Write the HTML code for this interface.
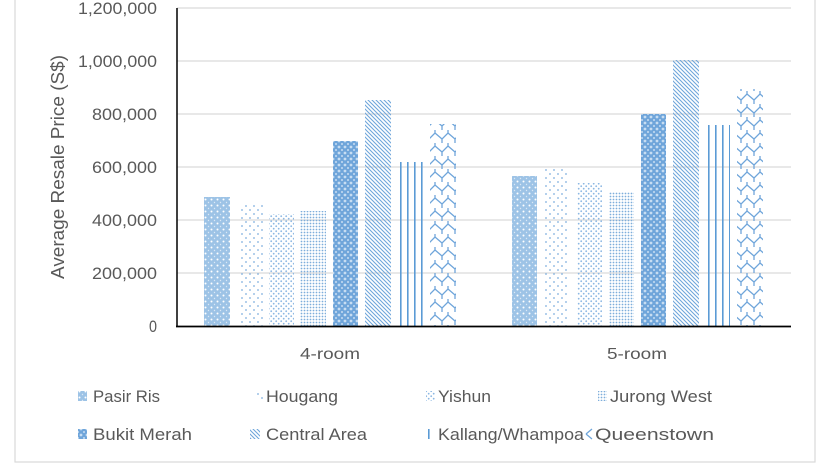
<!DOCTYPE html>
<html><head><meta charset="utf-8"><style>
html,body{margin:0;padding:0;background:#fff;}
svg{display:block;font-family:"Liberation Sans",sans-serif;}
</style></head><body>
<svg width="830" height="468" viewBox="0 0 830 468" xmlns="http://www.w3.org/2000/svg">
<defs>
<pattern id="pPR" width="6" height="6" patternUnits="userSpaceOnUse"><rect width="6" height="6" fill="#9dc3e6"/><circle cx="1.5" cy="1.5" r="1" fill="#fff"/><circle cx="4.5" cy="4.5" r="0.7" fill="#dbe8f5"/></pattern>
<pattern id="pHG" width="8" height="8" patternUnits="userSpaceOnUse"><circle cx="2" cy="2" r="0.9" fill="#7fafdf"/><circle cx="6" cy="6" r="0.9" fill="#7fafdf"/></pattern>
<pattern id="pYS" width="5" height="5" patternUnits="userSpaceOnUse"><circle cx="1.2" cy="1.2" r="0.9" fill="#8db8e3"/><circle cx="3.7" cy="3.7" r="0.9" fill="#8db8e3"/></pattern>
<pattern id="pJW" width="3" height="3" patternUnits="userSpaceOnUse"><circle cx="1.5" cy="1.5" r="0.9" fill="#7eaddb"/></pattern>
<pattern id="pBM" width="6" height="6" patternUnits="userSpaceOnUse"><rect width="6" height="6" fill="#6fa5da"/><circle cx="3" cy="3" r="1.4" fill="#c7ddf2"/><circle cx="0" cy="0" r="1" fill="#c7ddf2"/><circle cx="6" cy="6" r="1" fill="#c7ddf2"/><circle cx="0" cy="6" r="1" fill="#c7ddf2"/><circle cx="6" cy="0" r="1" fill="#c7ddf2"/></pattern>
<pattern id="pCA" width="4" height="4" patternUnits="userSpaceOnUse"><path d="M-1,-1 L5,5 M-1,3 L1,5 M3,-1 L5,1" stroke="#6fa5da" stroke-width="1.1"/></pattern>
<pattern id="pKW" width="7" height="10" patternUnits="userSpaceOnUse"><rect x="1" width="1.6" height="10" fill="#5b9bd5"/></pattern>
<pattern id="pQT" width="13" height="13" patternUnits="userSpaceOnUse"><path d="M0,9 L6,3 L13,9 M6,3 L6,-1 M0,9 L0,13 M13,9 L13,13" stroke="#6fa5da" stroke-width="1.3" fill="none"/></pattern>
</defs>
<rect x="15" y="-2" width="800" height="464" fill="#fff" stroke="#d9d9d9" stroke-width="1.2"/>
<g stroke="#d9d9d9" stroke-width="1.3">
<line x1="177" y1="8" x2="791" y2="8"/><line x1="177" y1="61" x2="791" y2="61"/><line x1="177" y1="114" x2="791" y2="114"/><line x1="177" y1="167" x2="791" y2="167"/><line x1="177" y1="220" x2="791" y2="220"/><line x1="177" y1="273" x2="791" y2="273"/>
</g>
<g>
<rect x="204" y="197" width="26" height="129" fill="url(#pPR)"/>
<rect x="240" y="205" width="24" height="121" fill="url(#pHG)"/>
<rect x="269" y="214" width="25" height="112" fill="url(#pYS)"/>
<rect x="300" y="211" width="26" height="115" fill="url(#pJW)"/>
<rect x="333" y="141" width="25" height="185" fill="url(#pBM)"/>
<rect x="365" y="100" width="26" height="226" fill="url(#pCA)"/>
<rect x="400" y="162" width="24" height="164" fill="url(#pKW)"/>
<rect x="430" y="124" width="26" height="202" fill="url(#pQT)"/>
<rect x="512" y="176" width="25" height="150" fill="url(#pPR)"/>
<rect x="545" y="167" width="24" height="159" fill="url(#pHG)"/>
<rect x="577" y="183" width="25" height="143" fill="url(#pYS)"/>
<rect x="609" y="192" width="25" height="134" fill="url(#pJW)"/>
<rect x="641" y="114" width="25" height="212" fill="url(#pBM)"/>
<rect x="673" y="60" width="26" height="266" fill="url(#pCA)"/>
<rect x="706" y="125" width="24" height="201" fill="url(#pKW)"/>
<rect x="737" y="89" width="26" height="237" fill="url(#pQT)"/>
</g>
<line x1="177" y1="8" x2="177" y2="327" stroke="#000" stroke-width="1.5"/>
<line x1="176" y1="326.5" x2="791" y2="326.5" stroke="#000" stroke-width="1.8"/>
<g font-size="17" fill="#595959" text-anchor="end">
<text x="157" y="14" textLength="79" lengthAdjust="spacingAndGlyphs">1,200,000</text>
<text x="157" y="67" textLength="79" lengthAdjust="spacingAndGlyphs">1,000,000</text>
<text x="157" y="120" textLength="65" lengthAdjust="spacingAndGlyphs">800,000</text>
<text x="157" y="173" textLength="65" lengthAdjust="spacingAndGlyphs">600,000</text>
<text x="157" y="226" textLength="65" lengthAdjust="spacingAndGlyphs">400,000</text>
<text x="157" y="279" textLength="65" lengthAdjust="spacingAndGlyphs">200,000</text>
<text x="157" y="332" textLength="8" lengthAdjust="spacingAndGlyphs">0</text>
</g>
<text transform="translate(64,167) rotate(-90)" font-size="18" fill="#595959" text-anchor="middle" textLength="224" lengthAdjust="spacingAndGlyphs">Average Resale Price (S$)</text>
<g font-size="16" fill="#595959">
<text x="300" y="359" textLength="60" lengthAdjust="spacingAndGlyphs">4-room</text>
<text x="607" y="359" textLength="60" lengthAdjust="spacingAndGlyphs">5-room</text>
</g>
<g font-size="17" fill="#595959">
<rect x="78" y="391" width="9" height="10" fill="url(#pPR)"/><text x="93" y="402" textLength="67" lengthAdjust="spacingAndGlyphs">Pasir Ris</text>
<rect x="256" y="391" width="8" height="10" fill="url(#pHG)"/><text x="266" y="402" textLength="72" lengthAdjust="spacingAndGlyphs">Hougang</text>
<rect x="426" y="391" width="9" height="10" fill="url(#pYS)"/><text x="438" y="402" textLength="53" lengthAdjust="spacingAndGlyphs">Yishun</text>
<rect x="598" y="391" width="9" height="10" fill="url(#pJW)"/><text x="610" y="402" textLength="102" lengthAdjust="spacingAndGlyphs">Jurong West</text>
<rect x="78" y="429" width="9" height="10" fill="url(#pBM)"/><text x="93" y="440" textLength="99" lengthAdjust="spacingAndGlyphs">Bukit Merah</text>
<rect x="250" y="429" width="10" height="10" fill="url(#pCA)"/><text x="266" y="440" textLength="101" lengthAdjust="spacingAndGlyphs">Central Area</text>
<rect x="425" y="429" width="9" height="10" fill="url(#pKW)"/><text x="438" y="440" textLength="146" lengthAdjust="spacingAndGlyphs">Kallang/Whampoa</text>
<path d="M586,434 L592,429 M586,434 L592,439" stroke="#6fa5da" stroke-width="1.3" fill="none"/><text x="595" y="440" textLength="119" lengthAdjust="spacingAndGlyphs">Queenstown</text>
</g>
</svg>
</body></html>
